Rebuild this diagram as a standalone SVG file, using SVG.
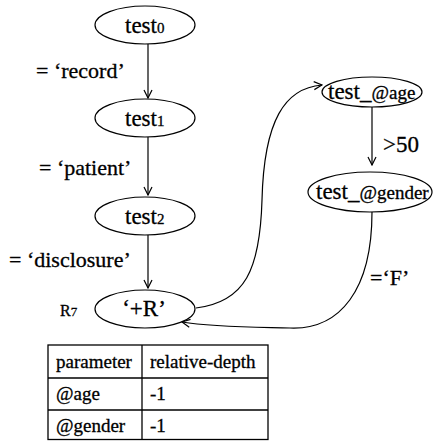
<svg xmlns="http://www.w3.org/2000/svg" width="433" height="441" viewBox="0 0 433 441">
<style>
.n{fill:#fff;stroke:#000;stroke-width:1.2}
.e{fill:none;stroke:#000;stroke-width:1.2}
.g{stroke:#000;stroke-width:1.3}
text{fill:#000;stroke:#000;stroke-width:0.3}
</style>
<defs>
<marker id="a" markerWidth="10" markerHeight="10" refX="9" refY="5" orient="auto" markerUnits="userSpaceOnUse">
<path d="M1,1 L9,5 L1,9" fill="none" stroke="#000" stroke-width="1.2"/>
</marker>
</defs>
<rect width="433" height="441" fill="#fff"/>
<g id="edges">
<line class="e" x1="148" y1="44" x2="148" y2="98" marker-end="url(#a)"/>
<line class="e" x1="148" y1="137" x2="148" y2="195" marker-end="url(#a)"/>
<line class="e" x1="148" y1="235" x2="148" y2="288" marker-end="url(#a)"/>
<line class="e" x1="372" y1="107" x2="372" y2="165" marker-end="url(#a)"/>
<path class="e" d="M196,308 C245,302 260,270 262,200 C264,120 285,88 322,85" marker-end="url(#a)"/>
<path class="e" d="M372,212 C372,290 340,330 290,328 C250,327 212,327 182,322" marker-end="url(#a)"/>
<text font-family="Liberation Serif" font-size="22" x="36" y="78">= ‘record’</text>
<text font-family="Liberation Serif" font-size="22" x="39" y="175">= ‘patient’</text>
<text font-family="Liberation Serif" font-size="22" x="9" y="267">= ‘disclosure’</text>
<text font-family="Liberation Serif" font-size="23" x="383" y="152">&gt;50</text>
<text font-family="Liberation Serif" font-size="22" x="370" y="285">=‘F’</text>
</g>
<g id="test0"><ellipse class="n" cx="145" cy="25" rx="50" ry="19"/><text font-family="Liberation Serif" font-size="23" x="125" y="33">test<tspan font-size="15">0</tspan></text></g>
<g id="test1"><ellipse class="n" cx="145" cy="118" rx="50" ry="19"/><text font-family="Liberation Serif" font-size="23" x="125" y="126">test<tspan font-size="15">1</tspan></text></g>
<g id="test2"><ellipse class="n" cx="145" cy="216" rx="50" ry="19"/><text font-family="Liberation Serif" font-size="23" x="125" y="224">test<tspan font-size="15">2</tspan></text></g>
<g id="plusR"><ellipse class="n" cx="145" cy="309" rx="50" ry="19"/><text font-family="Liberation Serif" font-size="23" x="144" y="316" text-anchor="middle">‘+R’</text>
<text font-family="Liberation Serif" font-size="16" x="60" y="316">R<tspan font-size="13">7</tspan></text></g>
<g id="test_age"><ellipse class="n" cx="372" cy="92" rx="50" ry="15"/><text font-family="Liberation Serif" font-size="23" x="328" y="99">test_<tspan font-size="19">@age</tspan></text></g>
<g id="test_gender"><ellipse class="n" cx="370" cy="192" rx="62" ry="20"/><text font-family="Liberation Serif" font-size="23" x="316" y="199">test_<tspan font-size="19">@gender</tspan></text></g>
<g id="table">
<rect x="48" y="345" width="220" height="94.5" fill="none" class="g"/>
<line class="g" x1="142" y1="345" x2="142" y2="440"/>
<line class="g" x1="48" y1="378" x2="268" y2="378"/>
<line class="g" x1="48" y1="410" x2="268" y2="410"/>
<text font-family="Liberation Serif" font-size="19" x="56" y="368">parameter</text>
<text font-family="Liberation Serif" font-size="19" x="150" y="368">relative-depth</text>
<text font-family="Liberation Serif" font-size="19" x="56" y="400">@age</text>
<text font-family="Liberation Serif" font-size="19" x="150" y="400">-1</text>
<text font-family="Liberation Serif" font-size="19" x="56" y="432">@gender</text>
<text font-family="Liberation Serif" font-size="19" x="150" y="432">-1</text>
</g>
</svg>
